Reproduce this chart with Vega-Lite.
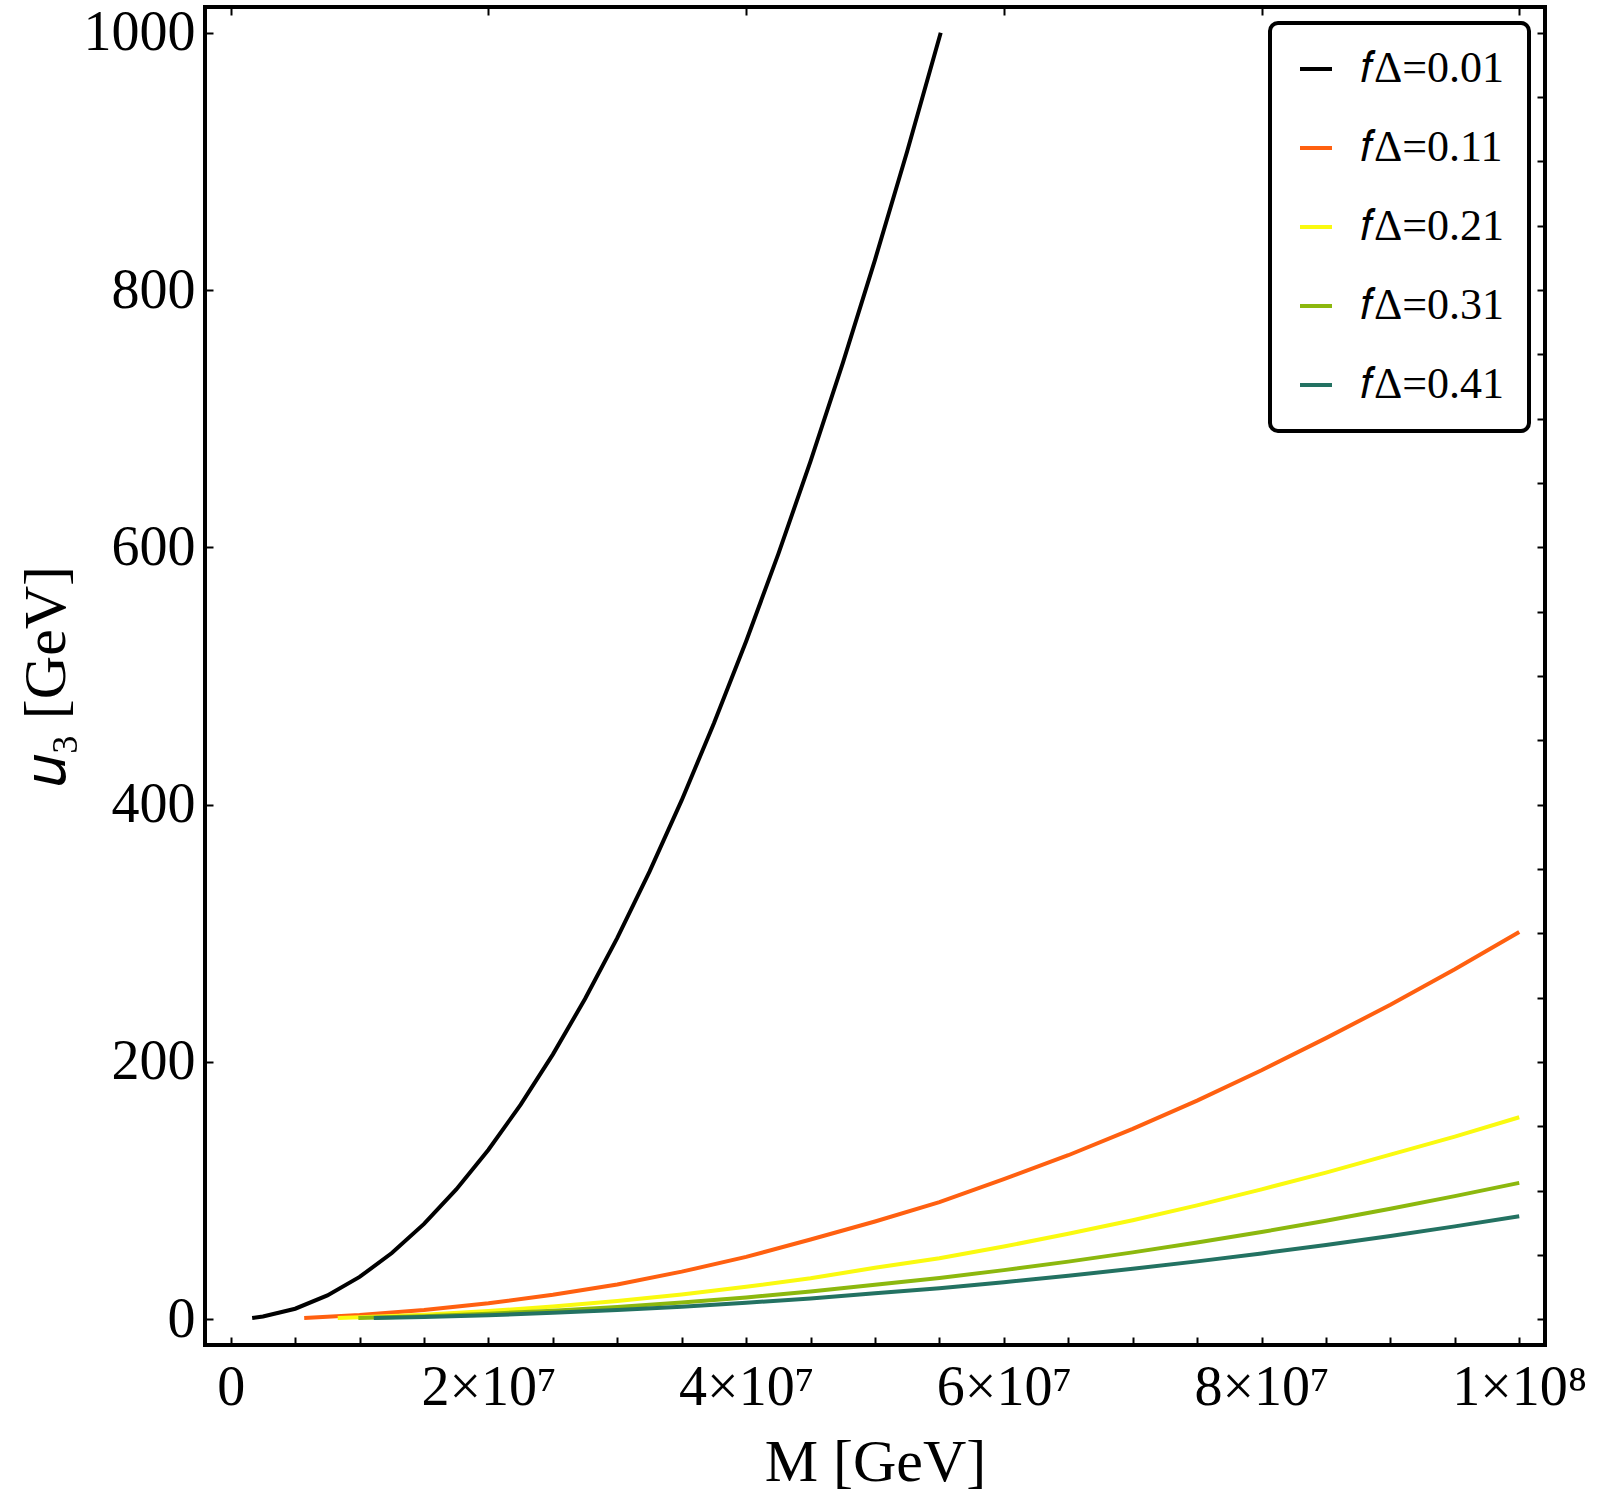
{
  "$schema": "https://vega.github.io/schema/vega-lite/v6.json",
  "width": 1340,
  "height": 1338,
  "autosize": {"type": "none"},
  "padding": {"left": 205, "top": 7, "right": 55, "bottom": 152},
  "background": "white",
  "config": {
    "view": {"stroke": "black", "strokeWidth": 4},
    "legend": {"strokeWidth": 4},
    "axis": {
      "grid": false,
      "domain": false,
      "tickColor": "black",
      "tickWidth": 2,
      "tickSize": 8,
      "offset": -8,
      "labelFont": "Liberation Serif",
      "labelFontSize": 56,
      "labelColor": "black",
      "labelFlush": false,
      "labelOverlap": false,
      "labelBound": false,
      "titleFont": "Liberation Serif",
      "titleFontSize": 60,
      "titleFontWeight": "normal",
      "titleColor": "black"
    }
  },
  "data": {
    "values": [
      {"series": "𝑓Δ=0.01", "M": 1660000, "u": 1},
      {"series": "𝑓Δ=0.01", "M": 2500000, "u": 2.1},
      {"series": "𝑓Δ=0.01", "M": 5000000, "u": 8.2},
      {"series": "𝑓Δ=0.01", "M": 7500000, "u": 18.5},
      {"series": "𝑓Δ=0.01", "M": 10000000, "u": 32.9},
      {"series": "𝑓Δ=0.01", "M": 12500000, "u": 51.5},
      {"series": "𝑓Δ=0.01", "M": 15000000, "u": 74.1},
      {"series": "𝑓Δ=0.01", "M": 17500000, "u": 100.9},
      {"series": "𝑓Δ=0.01", "M": 20000000, "u": 131.8},
      {"series": "𝑓Δ=0.01", "M": 22500000, "u": 166.8},
      {"series": "𝑓Δ=0.01", "M": 25000000, "u": 205.9},
      {"series": "𝑓Δ=0.01", "M": 27500000, "u": 249.1},
      {"series": "𝑓Δ=0.01", "M": 30000000, "u": 296.4},
      {"series": "𝑓Δ=0.01", "M": 32500000, "u": 347.9},
      {"series": "𝑓Δ=0.01", "M": 35000000, "u": 403.5},
      {"series": "𝑓Δ=0.01", "M": 37500000, "u": 463.2},
      {"series": "𝑓Δ=0.01", "M": 40000000, "u": 527},
      {"series": "𝑓Δ=0.01", "M": 42500000, "u": 594.9},
      {"series": "𝑓Δ=0.01", "M": 45000000, "u": 667},
      {"series": "𝑓Δ=0.01", "M": 47500000, "u": 743.2},
      {"series": "𝑓Δ=0.01", "M": 50000000, "u": 823.5},
      {"series": "𝑓Δ=0.01", "M": 52500000, "u": 907.9},
      {"series": "𝑓Δ=0.01", "M": 55100000, "u": 1000},
      {"series": "𝑓Δ=0.11", "M": 5700000, "u": 1},
      {"series": "𝑓Δ=0.11", "M": 10000000, "u": 3.3},
      {"series": "𝑓Δ=0.11", "M": 15000000, "u": 7.2},
      {"series": "𝑓Δ=0.11", "M": 20000000, "u": 12.5},
      {"series": "𝑓Δ=0.11", "M": 25000000, "u": 19},
      {"series": "𝑓Δ=0.11", "M": 30000000, "u": 27},
      {"series": "𝑓Δ=0.11", "M": 35000000, "u": 37},
      {"series": "𝑓Δ=0.11", "M": 40000000, "u": 48.5},
      {"series": "𝑓Δ=0.11", "M": 45000000, "u": 62},
      {"series": "𝑓Δ=0.11", "M": 50000000, "u": 76},
      {"series": "𝑓Δ=0.11", "M": 55000000, "u": 91},
      {"series": "𝑓Δ=0.11", "M": 60000000, "u": 109},
      {"series": "𝑓Δ=0.11", "M": 65000000, "u": 127.5},
      {"series": "𝑓Δ=0.11", "M": 70000000, "u": 148},
      {"series": "𝑓Δ=0.11", "M": 75000000, "u": 170},
      {"series": "𝑓Δ=0.11", "M": 80000000, "u": 193.5},
      {"series": "𝑓Δ=0.11", "M": 85000000, "u": 218.5},
      {"series": "𝑓Δ=0.11", "M": 90000000, "u": 244.5},
      {"series": "𝑓Δ=0.11", "M": 95000000, "u": 272},
      {"series": "𝑓Δ=0.11", "M": 100000000, "u": 301},
      {"series": "𝑓Δ=0.21", "M": 8300000, "u": 1},
      {"series": "𝑓Δ=0.21", "M": 10000000, "u": 1.6},
      {"series": "𝑓Δ=0.21", "M": 15000000, "u": 3.6},
      {"series": "𝑓Δ=0.21", "M": 20000000, "u": 6.4},
      {"series": "𝑓Δ=0.21", "M": 25000000, "u": 9.9},
      {"series": "𝑓Δ=0.21", "M": 30000000, "u": 14.2},
      {"series": "𝑓Δ=0.21", "M": 35000000, "u": 19.3},
      {"series": "𝑓Δ=0.21", "M": 40000000, "u": 25.2},
      {"series": "𝑓Δ=0.21", "M": 45000000, "u": 31.9},
      {"series": "𝑓Δ=0.21", "M": 50000000, "u": 40},
      {"series": "𝑓Δ=0.21", "M": 55000000, "u": 47.5},
      {"series": "𝑓Δ=0.21", "M": 60000000, "u": 56.5},
      {"series": "𝑓Δ=0.21", "M": 65000000, "u": 66.5},
      {"series": "𝑓Δ=0.21", "M": 70000000, "u": 77},
      {"series": "𝑓Δ=0.21", "M": 75000000, "u": 88.5},
      {"series": "𝑓Δ=0.21", "M": 80000000, "u": 101},
      {"series": "𝑓Δ=0.21", "M": 85000000, "u": 114},
      {"series": "𝑓Δ=0.21", "M": 90000000, "u": 128},
      {"series": "𝑓Δ=0.21", "M": 95000000, "u": 142},
      {"series": "𝑓Δ=0.21", "M": 100000000, "u": 157},
      {"series": "𝑓Δ=0.31", "M": 9900000, "u": 1},
      {"series": "𝑓Δ=0.31", "M": 15000000, "u": 2.4},
      {"series": "𝑓Δ=0.31", "M": 20000000, "u": 4.3},
      {"series": "𝑓Δ=0.31", "M": 25000000, "u": 6.7},
      {"series": "𝑓Δ=0.31", "M": 30000000, "u": 9.6},
      {"series": "𝑓Δ=0.31", "M": 35000000, "u": 13},
      {"series": "𝑓Δ=0.31", "M": 40000000, "u": 17},
      {"series": "𝑓Δ=0.31", "M": 45000000, "u": 21.5},
      {"series": "𝑓Δ=0.31", "M": 50000000, "u": 26.8},
      {"series": "𝑓Δ=0.31", "M": 55000000, "u": 32},
      {"series": "𝑓Δ=0.31", "M": 60000000, "u": 38.2},
      {"series": "𝑓Δ=0.31", "M": 65000000, "u": 44.8},
      {"series": "𝑓Δ=0.31", "M": 70000000, "u": 52},
      {"series": "𝑓Δ=0.31", "M": 75000000, "u": 59.6},
      {"series": "𝑓Δ=0.31", "M": 80000000, "u": 67.8},
      {"series": "𝑓Δ=0.31", "M": 85000000, "u": 76.6},
      {"series": "𝑓Δ=0.31", "M": 90000000, "u": 85.9},
      {"series": "𝑓Δ=0.31", "M": 95000000, "u": 95.7},
      {"series": "𝑓Δ=0.31", "M": 100000000, "u": 106},
      {"series": "𝑓Δ=0.41", "M": 11100000, "u": 1},
      {"series": "𝑓Δ=0.41", "M": 15000000, "u": 1.8},
      {"series": "𝑓Δ=0.41", "M": 20000000, "u": 3.2},
      {"series": "𝑓Δ=0.41", "M": 25000000, "u": 5},
      {"series": "𝑓Δ=0.41", "M": 30000000, "u": 7.2},
      {"series": "𝑓Δ=0.41", "M": 35000000, "u": 9.8},
      {"series": "𝑓Δ=0.41", "M": 40000000, "u": 12.8},
      {"series": "𝑓Δ=0.41", "M": 45000000, "u": 16.2},
      {"series": "𝑓Δ=0.41", "M": 50000000, "u": 20.2},
      {"series": "𝑓Δ=0.41", "M": 55000000, "u": 24.2},
      {"series": "𝑓Δ=0.41", "M": 60000000, "u": 28.8},
      {"series": "𝑓Δ=0.41", "M": 65000000, "u": 33.8},
      {"series": "𝑓Δ=0.41", "M": 70000000, "u": 39.2},
      {"series": "𝑓Δ=0.41", "M": 75000000, "u": 45},
      {"series": "𝑓Δ=0.41", "M": 80000000, "u": 51.2},
      {"series": "𝑓Δ=0.41", "M": 85000000, "u": 57.8},
      {"series": "𝑓Δ=0.41", "M": 90000000, "u": 64.8},
      {"series": "𝑓Δ=0.41", "M": 95000000, "u": 72.2},
      {"series": "𝑓Δ=0.41", "M": 100000000, "u": 80}
    ]
  },
  "layer": [
    {
      "mark": {"type": "line", "strokeWidth": 4},
      "encoding": {
        "x": {
          "field": "M",
          "type": "quantitative",
          "scale": {"domain": [-2000000, 102000000], "nice": false, "zero": false},
          "axis": {
            "orient": "bottom",
            "title": "M [GeV]",
            "titlePadding": 18,
            "labelPadding": 15,
            "values": [0, 5000000, 10000000, 15000000, 20000000, 25000000, 30000000, 35000000, 40000000, 45000000, 50000000, 55000000, 60000000, 65000000, 70000000, 75000000, 80000000, 85000000, 90000000, 95000000, 100000000],
            "labelExpr": "datum.value === 0 ? '0' : (datum.value % 20000000 !== 0 ? '' : (datum.value === 100000000 ? '1×10⁸' : (datum.value / 10000000) + '×10⁷'))"
          }
        },
        "y": {
          "field": "u",
          "type": "quantitative",
          "scale": {"domain": [-20, 1020], "nice": false, "zero": false},
          "axis": {
            "orient": "left",
            "title": "𝑢₃ [GeV]",
            "format": "d",
            "titlePadding": 6,
            "labelPadding": 10,
            "values": [0, 200, 400, 600, 800, 1000]
          }
        },
        "color": {
          "field": "series",
          "type": "nominal",
          "scale": {
            "domain": ["𝑓Δ=0.01", "𝑓Δ=0.11", "𝑓Δ=0.21", "𝑓Δ=0.31", "𝑓Δ=0.41"],
            "range": ["#000000", "#ff6010", "#fafa10", "#8cb80e", "#237262"]
          },
          "legend": {
            "orient": "top-right",
            "offset": 16,
            "title": null,
            "fillColor": "white",
            "strokeColor": "black",
            "cornerRadius": 8,
            "padding": 24,
            "symbolType": "stroke",
            "symbolSize": 1024,
            "symbolStrokeWidth": 4,
            "labelFont": "Liberation Serif",
            "labelFontSize": 44,
            "labelColor": "black",
            "labelOffset": 22,
            "labelLimit": 400,
            "rowPadding": 35
          }
        }
      }
    },
    {
      "mark": {"type": "line", "strokeOpacity": 0},
      "encoding": {
        "x": {
          "field": "M",
          "type": "quantitative",
          "axis": {
            "orient": "top",
            "title": null,
            "labels": false,
            "values": [0, 20000000, 40000000, 60000000, 80000000, 100000000]
          }
        },
        "y": {
          "field": "u",
          "type": "quantitative",
          "axis": {
            "orient": "right",
            "title": null,
            "labels": false,
            "values": [0, 50, 100, 150, 200, 250, 300, 350, 400, 450, 500, 550, 600, 650, 700, 750, 800, 850, 900, 950, 1000]
          }
        },
        "detail": {"field": "series", "type": "nominal"}
      }
    }
  ],
  "resolve": {"axis": {"x": "independent", "y": "independent"}}
}
